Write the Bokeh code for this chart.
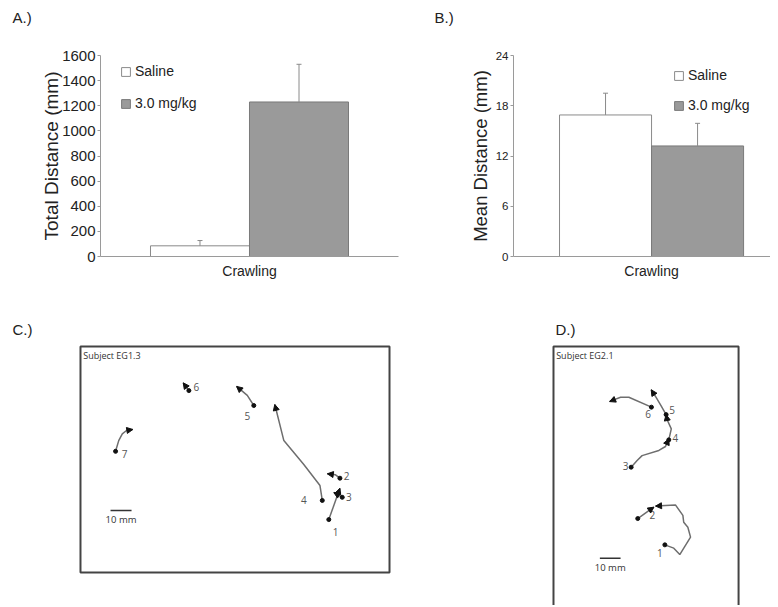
from bokeh.plotting import figure
from bokeh.layouts import column, row
from bokeh.models import (ColumnDataSource, Range1d, FixedTicker, Legend, Label,
                          LegendItem, Arrow, NormalHead)
from bokeh.core.properties import value
from bokeh.embed import file_html
from bokeh.resources import INLINE

# ---------------- data ----------------
categories = ["Crawling"]
groups = ["Saline", "3.0 mg/kg"]

total_mean = [85, 1230]
total_err = [42, 300]
total_ticks = [0, 200, 400, 600, 800, 1000, 1200, 1400, 1600]

mean_mean = [16.9, 13.2]
mean_err = [2.6, 2.7]
mean_ticks = [0, 6, 12, 18, 24]

# Panel C (Subject EG1.3) trajectories, mm from box top-left (y downward)
c_ids = ["1", "2", "3", "4", "5", "6", "7"]
c_xs = [[118.2, 123.5],
        [123.5, 121.4, 117.5],
        [124.6, 120.6],
        [115.1, 114.0, 106.3, 96.8, 92.5],
        [82.5, 79.4, 74.3],
        [51.6, 48.9],
        [16.7, 18.2, 19.9, 21.9, 24.9]]
c_ys = [[82.4, 67.5],
        [62.7, 61.1, 60.6],
        [71.8, 69.5],
        [73.3, 66.2, 56.2, 44.8, 27.6],
        [28.1, 23.3, 19.0],
        [21.0, 17.3],
        [49.9, 44.8, 41.6, 40.0, 39.5]]
c_label_x = [121.4, 126.7, 127.8, 106.3, 79.4, 55.2, 21.0]
c_label_y = [88.1, 61.8, 71.8, 73.3, 33.3, 19.4, 51.1]
c_box = [147.1, 107.6]          # arena width, height (mm)
c_scale = [14.3, 78.1]

# Panel D (Subject EG2.1) trajectories
d_ids = ["1", "2", "3", "4", "5", "6"]
d_xs = [[53.8, 58.1, 61.0, 66.2, 64.9, 62.9, 62.5, 58.9, 49.3],
        [40.7, 46.9, 48.5],
        [37.5, 40.4, 42.8, 50.9, 54.1, 55.7],
        [55.7, 56.9, 54.9, 54.4],
        [54.4, 52.0, 49.5, 47.2],
        [47.3, 36.4, 32.4, 29.1, 27.1]]
d_ys = [[95.8, 97.4, 100.5, 92.1, 87.3, 84.9, 81.6, 76.5, 77.1],
        [83.1, 78.7, 77.6],
        [58.3, 55.1, 52.7, 50.2, 48.3, 44.6],
        [45.1, 39.8, 35.4, 32.9],
        [32.9, 28.7, 24.5, 20.9],
        [29.3, 24.5, 24.5, 25.8, 26.6]]
d_label_x = [51.4, 47.7, 34.8, 58.9, 57.3, 45.7]
d_label_y = [99.7, 81.6, 57.8, 44.1, 30.6, 32.5]
d_box = [89.4, 140.0]           # arena extends below the visible area
d_scale = [22.4, 102.3]

SCALE_MM = 10

FONT = "Liberation Sans"
FILLS = ["#ffffff", "#9a9a9a"]
LINES = ["#8a8a8a", "#7a7a7a"]
AXIS_C = "#9a9a9a"


def add_letter(p, letter, a, b):
    # panel letter placed in the "above" side panel (relative to the frame's top-left)
    p.add_layout(Label(x=a, y=b, x_units="screen", y_units="screen", text=letter,
                       text_font=FONT, text_font_size="15px", text_color="#222222",
                       text_baseline="middle", text_align="left"), "above")


def bar_panel(w, h, borders, xr, means, errs, ticks, ylabel, tick_fs, label_fs,
              label_standoff, leg_xy, leg_spacing, letter, letter_xy):
    bl, br, bt, bb = borders
    p = figure(width=w, height=h, x_range=Range1d(*xr), y_range=Range1d(ticks[0], ticks[-1]),
               output_backend="svg", toolbar_location=None,
               min_border_left=bl, min_border_right=br, min_border_top=bt, min_border_bottom=bb)
    p.outline_line_color = None
    p.grid.visible = False
    p.background_fill_color = "white"
    add_letter(p, letter, *letter_xy)

    xs = [-0.2, 0.2]
    src = ColumnDataSource(dict(x=xs, top=means, upper=[m + e for m, e in zip(means, errs)],
                                group=groups, fill=FILLS, line=LINES))
    r = p.vbar(x="x", top="top", bottom=0, width=0.4, fill_color="fill", line_color="line",
               line_width=1, source=src)
    p.segment(x0="x", y0="top", x1="x", y1="upper", line_color="#8a8a8a", line_width=1, source=src)
    p.scatter(x="x", y="upper", marker="dash", size=5, line_color="#8a8a8a", line_width=1, source=src)

    p.yaxis.ticker = FixedTicker(ticks=ticks)
    p.yaxis.axis_line_color = AXIS_C
    p.yaxis.major_tick_line_color = AXIS_C
    p.yaxis.major_tick_out = 3
    p.yaxis.major_tick_in = 0
    p.yaxis.minor_tick_line_color = None
    p.yaxis.major_label_text_font = FONT
    p.yaxis.major_label_text_font_size = tick_fs
    p.yaxis.major_label_text_color = "#222222"
    p.yaxis.major_label_standoff = 2
    p.yaxis.axis_label = ylabel
    p.yaxis.axis_label_text_font = FONT
    p.yaxis.axis_label_text_font_size = label_fs
    p.yaxis.axis_label_text_font_style = "normal"
    p.yaxis.axis_label_text_color = "#222222"
    p.yaxis.axis_label_standoff = label_standoff

    p.xaxis.ticker = FixedTicker(ticks=[0])
    p.xaxis.major_label_overrides = {0: categories[0]}
    p.xaxis.axis_line_color = AXIS_C
    p.xaxis.major_tick_line_color = None
    p.xaxis.minor_tick_line_color = None
    p.xaxis.major_label_text_font = FONT
    p.xaxis.major_label_text_font_size = "14px"
    p.xaxis.major_label_text_color = "#222222"
    p.xaxis.major_label_standoff = 0

    legend = Legend(items=[LegendItem(label=groups[i], renderers=[r], index=i) for i in range(2)],
                    location=leg_xy, padding=0, margin=0, spacing=leg_spacing,
                    glyph_width=11, glyph_height=11, label_standoff=4, label_height=20,
                    label_text_font=FONT, label_text_font_size="14px", label_text_color="#222222",
                    border_line_color=None, background_fill_alpha=0)
    p.add_layout(legend)
    return p


def track_panel(w, h, borders, xr, yr, box, ids, xs, ys, lx, ly, scale, subject,
                letter, letter_xy):
    bl, br, bt, bb = borders
    p = figure(width=w, height=h, x_range=Range1d(*xr), y_range=Range1d(*yr),
               output_backend="svg", toolbar_location=None,
               x_axis_location=None, y_axis_location=None,
               min_border_left=bl, min_border_right=br, min_border_top=bt, min_border_bottom=bb)
    p.grid.visible = False
    p.outline_line_color = None
    add_letter(p, letter, *letter_xy)

    # arena outline
    p.quad(left=[0], right=[box[0]], top=[0], bottom=[box[1]], fill_color=None,
           line_color="#444444", line_width=2)

    p.multi_line(xs=xs, ys=ys, line_color="#6e6e6e", line_width=1.5)
    p.scatter(x=[t[0] for t in xs], y=[t[0] for t in ys], size=4, color="#111111")
    asrc = ColumnDataSource(dict(x0=[t[-2] for t in xs], y0=[t[-2] for t in ys],
                                 x1=[t[-1] for t in xs], y1=[t[-1] for t in ys]))
    p.add_layout(Arrow(end=NormalHead(size=6, fill_color="#111111", line_color="#111111", line_width=1),
                       source=asrc, x_start="x0", y_start="y0", x_end="x1", y_end="y1",
                       line_alpha=0))
    p.text(x=lx, y=ly, text=ids, text_font=value("Open Sans"), text_font_size="10px",
           text_color="#555555", text_align="center", text_baseline="middle")

    p.segment(x0=[scale[0]], y0=[scale[1]], x1=[scale[0] + SCALE_MM], y1=[scale[1]],
              line_color="#333333", line_width=1.5)
    p.text(x=[scale[0] + SCALE_MM / 2], y=[scale[1] + 1.2], text=["10 mm"],
           text_font=value("Open Sans"), text_font_size="9.5px", text_color="#333333",
           text_align="center", text_baseline="top")
    p.text(x=[1.3], y=[1.3], text=[subject], text_font=value("Open Sans"), text_font_size="9px",
           text_color="#333333", text_align="left", text_baseline="top")
    return p


pA = bar_panel(400, 290, (100, 2, 55, 34), (-0.602, 0.602), total_mean, total_err, total_ticks,
               "Total Distance (mm)", "15px", "19px", -3, (20, 143), 12, "A.)", (-88, 38))
pB = bar_panel(370, 290, (113, 0, 53, 34), (-0.6, 0.517), mean_mean, mean_err, mean_ticks,
               "Mean Distance (mm)", "11.5px", "18.5px", 2, (160, 141), 10, "B.)", (-79, 38))
pC = track_panel(400, 315, (76, 7, 52, 0), (-1.9, 149.0), (123.3, -1.9), c_box,
                 c_ids, c_xs, c_ys, c_label_x, c_label_y, c_scale, "Subject EG1.3",
                 "C.)", (-64, 13))
pD = track_panel(370, 315, (149, 28, 52, 0), (-1.93, 91.3), (125.1, -1.93), d_box,
                 d_ids, d_xs, d_ys, d_label_x, d_label_y, d_scale, "Subject EG2.1",
                 "D.)", (6, 13))

layout = column(row(pA, pB), row(pC, pD))
open("out.html", "w").write(file_html(layout, INLINE))
